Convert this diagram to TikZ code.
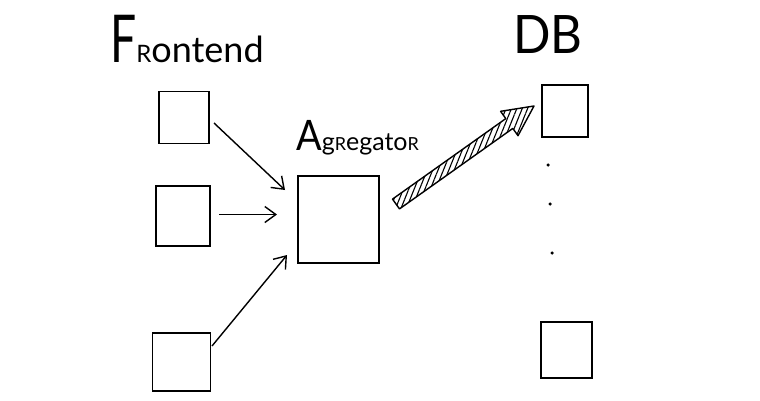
\documentclass[tikz,border=0pt]{standalone}
\usepackage{fontspec}
\setmainfont{Lato}
\usetikzlibrary{arrows.meta,patterns.meta}
\begin{document}
\begin{tikzpicture}[x=1pt,y=-1pt,
  box/.style={draw,line width=1.4pt,inner sep=0pt},
  flow/.style={line width=1.4pt,-{Straight Barb[length=11pt,width=16pt]}},
  bigarrow/.style={draw,line width=1.4pt,line join=round,
    pattern={Lines[angle=68,distance=5pt,line width=1.1pt]}},
  dot/.style={circle,fill,inner sep=0pt,minimum size=3.5pt},
  lbl/.style={anchor=base west,inner sep=0pt}]
\useasboundingbox (0,0) rectangle (760,400);
% frontend boxes
\node[box,minimum width=50pt,minimum height=52pt] (f1) at (184,117.5) {};
\node[box,minimum width=54pt,minimum height=60pt] (f2) at (183,216) {};
\node[box,minimum width=58pt,minimum height=58pt] (f3) at (181.5,362) {};
% aggregator
\node[box,minimum width=81pt,minimum height=87pt] (agg) at (338.5,219.5) {};
% db boxes
\node[box,minimum width=46pt,minimum height=52pt] (db1) at (565,111) {};
\node[box,minimum width=51pt,minimum height=56pt] (db2) at (566.5,350) {};
% dots
\node[dot] (d1) at (548,165) {};
\node[dot] (d2) at (550,204) {};
\node[dot] (d3) at (552,253) {};
% labels
\node[lbl] (lfront) at (110,62) {{\fontsize{66}{66}\selectfont\scalebox{0.7}[1]{F}}{\fontsize{24}{24}\selectfont R}{\fontsize{36}{36}\selectfont ontend}};
\node[lbl] (lagg) at (296,150) {{\fontsize{42}{42}\selectfont\scalebox{0.9}[1]{A}}{\fontsize{25}{25}\selectfont g}{\fontsize{18}{18}\selectfont R}{\fontsize{25}{25}\selectfont egato}{\fontsize{18}{18}\selectfont R}};
\node[lbl] (ldb) at (513,53) {\fontsize{53}{53}\selectfont\scalebox{0.93}[1]{DB}};
% thin arrows
\coordinate (f1s) at (214,123);
\coordinate (f1e) at (285,190);
\coordinate (f2s) at (219,214.5);
\coordinate (f2e) at (277,214.5);
\coordinate (f3s) at (212,346);
\coordinate (f3e) at (287,255);
\draw[flow] (f1s) -- (f1e);
\draw[flow] (f2s) -- (f2e);
\draw[flow] (f3s) -- (f3e);
% big hatched arrow
\coordinate (ba) at (392.5,199.1);
\coordinate (bb) at (399.5,208.9);
\coordinate (bc) at (512.8,128.4);
\coordinate (bd) at (518.0,135.7);
\coordinate (be) at (534,106);
\coordinate (bf) at (500.6,111.3);
\coordinate (bg) at (505.8,118.6);
\draw[bigarrow] (ba) -- (bg) -- (bf) -- (be) -- (bd) -- (bc) -- (bb) -- cycle;
\end{tikzpicture}
\end{document}
